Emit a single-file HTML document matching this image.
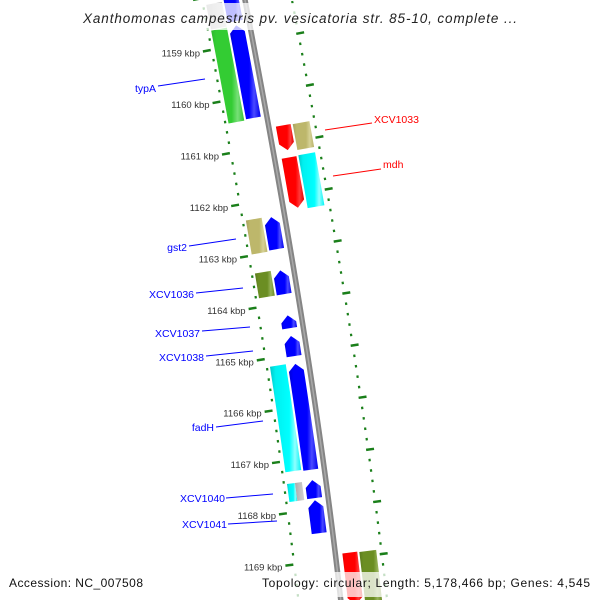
<!DOCTYPE html>
<html><head><meta charset="utf-8"><style>
html,body{margin:0;padding:0;background:#fff;overflow:hidden;width:600px;height:600px}
svg{display:block;overflow:hidden}
text{font-family:"Liberation Sans",sans-serif}
</style></head><body>
<svg id="map" width="600" height="600" viewBox="0 0 600 600" xmlns="http://www.w3.org/2000/svg">
<defs>
<clipPath id="frame"><rect x="0" y="0" width="600" height="600"/></clipPath>
<linearGradient id="g-blue" x1="0" x2="1" y1="0" y2="0"><stop offset="0" stop-color="#0000d8"/><stop offset="0.15" stop-color="#0000ff"/><stop offset="0.62" stop-color="#0000ff"/><stop offset="0.78" stop-color="#4a4aff"/><stop offset="1" stop-color="#0000f0"/></linearGradient>
<linearGradient id="g-green" x1="0" x2="1" y1="0" y2="0"><stop offset="0" stop-color="#2fb82f"/><stop offset="0.15" stop-color="#33cc33"/><stop offset="0.62" stop-color="#33cc33"/><stop offset="0.8" stop-color="#77e077"/><stop offset="1" stop-color="#33c433"/></linearGradient>
<linearGradient id="g-red" x1="0" x2="1" y1="0" y2="0"><stop offset="0" stop-color="#e80000"/><stop offset="0.15" stop-color="#ff0000"/><stop offset="0.62" stop-color="#ff0000"/><stop offset="0.8" stop-color="#ff3a3a"/><stop offset="1" stop-color="#e00000"/></linearGradient>
<linearGradient id="g-cyan" x1="0" x2="1" y1="0" y2="0"><stop offset="0" stop-color="#00c8c8"/><stop offset="0.18" stop-color="#00f0f0"/><stop offset="0.62" stop-color="#00ffff"/><stop offset="0.8" stop-color="#90ffff"/><stop offset="1" stop-color="#00f4f4"/></linearGradient>
<linearGradient id="g-khaki" x1="0" x2="1" y1="0" y2="0"><stop offset="0" stop-color="#a8a060"/><stop offset="0.18" stop-color="#bdb76b"/><stop offset="0.62" stop-color="#bdb76b"/><stop offset="0.8" stop-color="#d6d196"/><stop offset="1" stop-color="#b8b268"/></linearGradient>
<linearGradient id="g-olive" x1="0" x2="1" y1="0" y2="0"><stop offset="0" stop-color="#5a7a1c"/><stop offset="0.18" stop-color="#6b8e23"/><stop offset="0.62" stop-color="#6b8e23"/><stop offset="0.8" stop-color="#97b35a"/><stop offset="1" stop-color="#678a22"/></linearGradient>
<linearGradient id="g-gray" x1="0" x2="1" y1="0" y2="0"><stop offset="0" stop-color="#aaaaaa"/><stop offset="0.5" stop-color="#c0c0c0"/><stop offset="1" stop-color="#d0d0d0"/></linearGradient>
</defs>
<g clip-path="url(#frame)">
<g id="rings"></g>
<g id="backbone"></g>
<g id="features"></g>
</g>
<g id="ticklabels"></g>
<g id="labels">
  <line x1="158" y1="86" x2="205" y2="79" stroke="#0000ff" stroke-width="1"/>
  <text x="156" y="92" text-anchor="end" font-size="10.5" fill="#0000ff">typA</text>
  <line x1="189" y1="246" x2="236" y2="239" stroke="#0000ff" stroke-width="1"/>
  <text x="187" y="251" text-anchor="end" font-size="10.5" fill="#0000ff">gst2</text>
  <line x1="196" y1="293" x2="243" y2="288" stroke="#0000ff" stroke-width="1"/>
  <text x="194" y="298" text-anchor="end" font-size="10.5" fill="#0000ff">XCV1036</text>
  <line x1="202" y1="331" x2="250" y2="327" stroke="#0000ff" stroke-width="1"/>
  <text x="200" y="337" text-anchor="end" font-size="10.5" fill="#0000ff">XCV1037</text>
  <line x1="206" y1="356" x2="253" y2="351" stroke="#0000ff" stroke-width="1"/>
  <text x="204" y="361" text-anchor="end" font-size="10.5" fill="#0000ff">XCV1038</text>
  <line x1="216" y1="427" x2="263" y2="421" stroke="#0000ff" stroke-width="1"/>
  <text x="214" y="431" text-anchor="end" font-size="10.5" fill="#0000ff">fadH</text>
  <line x1="226" y1="498" x2="273" y2="494" stroke="#0000ff" stroke-width="1"/>
  <text x="225" y="502" text-anchor="end" font-size="10.5" fill="#0000ff">XCV1040</text>
  <line x1="228" y1="524" x2="277" y2="521" stroke="#0000ff" stroke-width="1"/>
  <text x="227" y="528" text-anchor="end" font-size="10.5" fill="#0000ff">XCV1041</text>
  <line x1="325" y1="130" x2="372" y2="123" stroke="#ff0000" stroke-width="1"/>
  <text x="374" y="123" font-size="10.5" fill="#ff0000">XCV1033</text>
  <line x1="333" y1="176" x2="381" y2="169" stroke="#ff0000" stroke-width="1"/>
  <text x="383" y="168" font-size="10.5" fill="#ff0000">mdh</text>
</g>
<rect x="80" y="3" width="442" height="27" fill="#ffffff" fill-opacity="0.75"/>
<text x="83" y="23" font-size="13.5" font-style="italic" fill="#222" textLength="434" lengthAdjust="spacing">Xanthomonas campestris pv. vesicatoria str. 85-10, complete ...</text>
<rect x="258" y="572" width="340" height="25" fill="#ffffff" fill-opacity="0.75"/>
<text x="9" y="587" font-size="12" fill="#111" textLength="134" lengthAdjust="spacing">Accession: NC_007508</text>
<text x="262" y="587" font-size="12" fill="#111" textLength="328" lengthAdjust="spacing">Topology: circular; Length: 5,178,466 bp; Genes: 4,545</text>
</svg>
<script>
// ---- data (kbp positions) ----
const featStart  = [1157.9, 1158.63, 1158.14, 1158.64, 1160.66, 1160.67, 1161.28, 1161.27, 1162.32, 1162.34, 1163.35, 1163.37, 1164.24, 1164.64, 1165.16, 1165.18, 1167.44, 1167.44, 1167.43, 1167.82, 1168.9, 1168.91];
const featEnd    = [1158.55, 1160.42, 1158.62, 1160.44, 1161.14, 1161.17, 1162.25, 1162.29, 1162.98, 1162.96, 1163.83, 1163.83, 1164.49, 1165.03, 1167.21, 1167.23, 1167.79, 1167.79, 1167.78, 1168.46, 1169.9, 1169.9];
const featTrack  = ["L1","L1","L2","L2","R1","R2","R1","R2","L2","L1","L2","L1","L1","L1","L2","L1","L2a","L2b","L1","L1","R1","R2"];
const featColor  = ["blue","blue","gray","green","red","khaki","red","cyan","khaki","blue","olive","blue","blue","blue","cyan","blue","cyan","gray","blue","blue","red","olive"];
const featStrand = [-1,-1,0,0,1,0,1,0,0,-1,0,-1,-1,-1,0,-1,0,0,-1,-1,1,0];
const tickLabelKbp = [1159,1160,1161,1162,1163,1164,1165,1166,1167,1168,1169];
const tickRangeKbp = [1157.6, 1170.2];

// ---- geometry ----
const NS = "http://www.w3.org/2000/svg";
const X  = y => 245 + 0.192*y - 0.00003*y*y - 0.00000004*y*y*y;
const dX = y => 0.192 - 0.00006*y - 0.00000012*y*y;
const tOf = k => 42 + (k - 1159) * 51.75;
function pt(t, u){ const d = dX(t), n = Math.hypot(1, d); return [X(t) + u/n, t - u*d/n]; }
const trackU = {L2:[-39,-23], L2a:[-39,-31], L2b:[-31,-24], L1:[-21,-6], R1:[7,22], R2:[24,41]};
const P = p => p[0].toFixed(2) + "," + p[1].toFixed(2);

// backbone
(function(){
  const g = document.getElementById("backbone");
  let d = ""; for (let t = -10; t <= 610; t += 10) d += (t === -10 ? "M" : "L") + P(pt(t, 0));
  const a = document.createElementNS(NS, "path");
  
  
  a.setAttribute("d", d); a.setAttribute("fill", "none"); a.setAttribute("stroke", "#858585"); a.setAttribute("stroke-width", "5.5");
  g.appendChild(a);
  const b = document.createElementNS(NS, "path");
  
  
  b.setAttribute("d", d); b.setAttribute("fill", "none"); b.setAttribute("stroke", "#a8a8a8"); b.setAttribute("stroke-width", "1.5");
  g.appendChild(b);
})();

// tick rings
(function(){
  const g = document.getElementById("rings");
  const gl = document.getElementById("ticklabels");
  const n = Math.round((tickRangeKbp[1] - tickRangeKbp[0]) / 0.2);
  for (let i = 0; i <= n; i++) {
    const k = tickRangeKbp[0] + i * 0.2;
    const major = Math.abs(k - Math.round(k)) < 0.01;
    const t = tOf(k);
    const segs = major ? [[-51,-43],[44,52]] : [[-43.2,-41],[45,47.2]];
    segs.forEach((s, j) => {
      const a = pt(t, s[0]), b = pt(t, s[1]);
      const l = document.createElementNS(NS, "line");
      
      
      l.setAttribute("x1", a[0]); l.setAttribute("y1", a[1]); l.setAttribute("x2", b[0]); l.setAttribute("y2", b[1]);
      l.setAttribute("stroke", "#1a7f1a"); l.setAttribute("stroke-width", "2.5");
      g.appendChild(l);
    });
  }
  tickLabelKbp.forEach(k => {
    const p = pt(tOf(k), -54);
    const tx = document.createElementNS(NS, "text");
    
    
    tx.setAttribute("x", p[0].toFixed(1)); tx.setAttribute("y", (p[1] + 4.5).toFixed(1));
    tx.setAttribute("text-anchor", "end"); tx.setAttribute("font-size", "9.5"); tx.setAttribute("fill", "#333");
    tx.textContent = k + " kbp";
    gl.appendChild(tx);
  });
})();

// features
(function(){
  const g = document.getElementById("features");
  const AH = 7;
  for (let i = 0; i < featStart.length; i++) {
    const t1 = tOf(featStart[i]), t2 = Math.min(tOf(featEnd[i]), 615);
    const [u1, u2] = trackU[featTrack[i]], um = (u1 + u2) / 2;
    const s = featStrand[i];
    const a = s === -1 ? t1 + AH : t1, b = s === 1 ? t2 - AH : t2;
    const pts = [];
    const steps = Math.max(2, Math.ceil((b - a) / 15));
    for (let j = 0; j <= steps; j++) pts.push(pt(a + (b - a) * j / steps, u1));
    if (s === 1) pts.push(pt(t2, um));
    for (let j = steps; j >= 0; j--) pts.push(pt(a + (b - a) * j / steps, u2));
    if (s === -1) pts.push(pt(t1, um));
    const poly = document.createElementNS(NS, "polygon");
    
    
    poly.setAttribute("points", pts.map(P).join(" "));
    poly.setAttribute("fill", "url(#g-" + featColor[i] + ")");
    g.appendChild(poly);
  }
})();
</script>
</body></html>
